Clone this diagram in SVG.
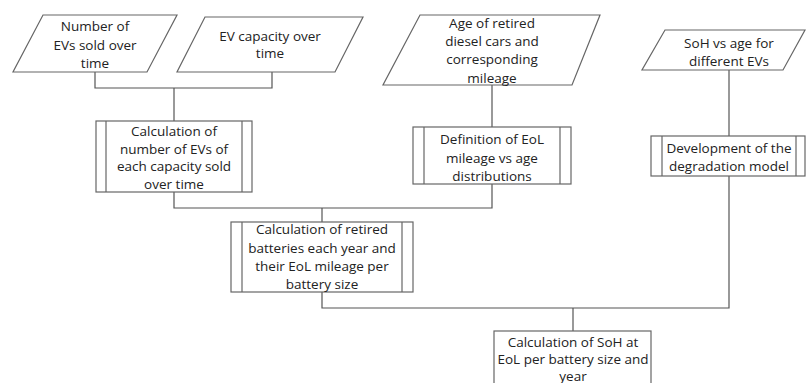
<svg xmlns="http://www.w3.org/2000/svg" width="806" height="383" viewBox="0 0 806 383">
<style>
.shape{fill:#fff;stroke:#666;stroke-width:1.2}
.inner{stroke:#666;stroke-width:1.2;fill:none}
.conn{fill:none;stroke:#555;stroke-width:1.2}
text{font-family:"Open Sans","Liberation Sans",sans-serif;font-size:13.5px;fill:#222;text-anchor:middle}
</style>
<rect width="806" height="383" fill="#fff"/>
<g id="connectors">
<polyline class="conn" points="95,72 95,88 272,88 272,72"/>
<line class="conn" x1="174" y1="88" x2="174" y2="121"/>
<line class="conn" x1="492" y1="85" x2="492" y2="127"/>
<polyline class="conn" points="174,192 174,208 492,208 492,184"/>
<line class="conn" x1="322" y1="208" x2="322" y2="222"/>
<line class="conn" x1="729" y1="70" x2="729" y2="136"/>
<polyline class="conn" points="322,292 322,308 729,308 729,176"/>
<line class="conn" x1="573" y1="308" x2="573" y2="331"/>
</g>
<g id="input-evs-sold">
<polygon class="shape" points="43,15 177,15 147,72 13,72"/>
<text x="95" y="31">Number of</text>
<text x="95" y="50">EVs sold over</text>
<text x="95" y="68">time</text>
</g>
<g id="input-ev-capacity">
<polygon class="shape" points="205,17 363,17 335,72 177,72"/>
<text x="270" y="41">EV capacity over</text>
<text x="270" y="58">time</text>
</g>
<g id="input-diesel">
<polygon class="shape" points="420,15 600,15 572,85 383,85"/>
<text x="492" y="28">Age of retired</text>
<text x="492" y="46">diesel cars and</text>
<text x="492" y="64">corresponding</text>
<text x="492" y="83">mileage</text>
</g>
<g id="input-soh">
<polygon class="shape" points="665,30 805,30 783,70 642,70"/>
<text x="729" y="48">SoH vs age for</text>
<text x="729" y="66">different EVs</text>
</g>
<g id="calc-evs-capacity">
<rect class="shape" x="96" y="121" width="156" height="71"/>
<line class="inner" x1="106" y1="121" x2="106" y2="192"/>
<line class="inner" x1="242" y1="121" x2="242" y2="192"/>
<text x="174" y="136">Calculation of</text>
<text x="174" y="154">number of EVs of</text>
<text x="174" y="171">each capacity sold</text>
<text x="174" y="189">over time</text>
</g>
<g id="def-eol">
<rect class="shape" x="413" y="127" width="158" height="57"/>
<line class="inner" x1="424" y1="127" x2="424" y2="184"/>
<line class="inner" x1="560" y1="127" x2="560" y2="184"/>
<text x="492" y="144">Definition of EoL</text>
<text x="492" y="163">mileage vs age</text>
<text x="492" y="181">distributions</text>
</g>
<g id="degradation-model">
<rect class="shape" x="651" y="136" width="154" height="40"/>
<line class="inner" x1="662" y1="136" x2="662" y2="176"/>
<line class="inner" x1="796" y1="136" x2="796" y2="176"/>
<text x="729" y="153">Development of the</text>
<text x="729" y="171">degradation model</text>
</g>
<g id="calc-retired">
<rect class="shape" x="231" y="222" width="182" height="70"/>
<line class="inner" x1="242" y1="222" x2="242" y2="292"/>
<line class="inner" x1="402" y1="222" x2="402" y2="292"/>
<text x="322" y="234">Calculation of retired</text>
<text x="322" y="253">batteries each year and</text>
<text x="322" y="271">their EoL mileage per</text>
<text x="322" y="289">battery size</text>
</g>
<g id="calc-soh">
<rect class="shape" x="494" y="331" width="157" height="60"/>
<text x="573" y="347">Calculation of SoH at</text>
<text x="573" y="364">EoL per battery size and</text>
<text x="573" y="381">year</text>
</g>
</svg>
